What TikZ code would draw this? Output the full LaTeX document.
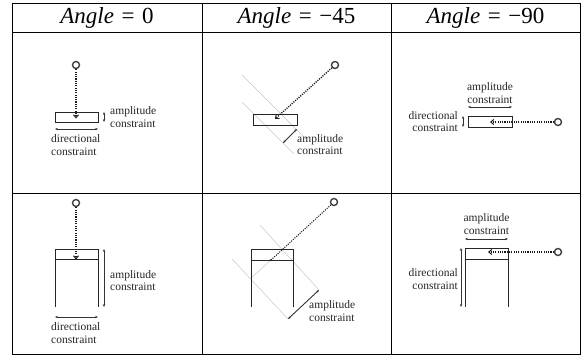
\documentclass[tikz,border=0pt]{standalone}
\usepackage{fontspec}
\setmainfont{Liberation Serif}
\usetikzlibrary{arrows.meta}
\tikzset{
  tbl/.style={line width=0.9pt, draw=black},
  boxline/.style={line width=0.85pt, draw=black!85},
  ptc/.style={circle, draw=black!75, line width=1.4pt, inner sep=0pt, minimum size=7pt},
  dotline/.style={line width=1.4pt, draw=black!90, dash pattern=on 1.1pt off 1.2pt},
  dots/.style={dotline, -{Straight Barb[length=3pt,width=5pt,line width=1pt]}},
  dim/.style={line width=0.55pt, draw=black!80, {Stealth[length=3pt,width=2.4pt]}-{Stealth[length=3pt,width=2.4pt]}},
  guide/.style={line width=0.5pt, draw=black!22},
  lbl/.style={font=\fontsize{11.5}{12.8}\selectfont, inner sep=0pt, text=black!85},
  hdr/.style={font=\fontsize{23}{26}\selectfont, inner sep=0pt}
}
\newcommand{\hdreq}{\hspace{0.33em}=\hspace{0.33em}}
\begin{document}
\begin{tikzpicture}[x=1pt,y=-1pt]
\useasboundingbox (0,0) rectangle (586,362);
% table
\draw[tbl] (12,3) rectangle (580,354);
\draw[tbl] (12,32) -- (580,32);
\draw[tbl] (12,193) -- (580,193);
\draw[tbl] (202,3) -- (202,354);
\draw[tbl] (391,3) -- (391,354);
% headers
\node[hdr] (h1) at (107,17.5) {\textit{Angle}\hdreq 0};
\node[hdr] (h2) at (296.5,17.5) {\textit{Angle}\hdreq −45};
\node[hdr] (h3) at (485.5,17.5) {\textit{Angle}\hdreq −90};

% ---- cell 1: angle 0, short
\draw[boxline] (55,112) rectangle (98,122);
\node[ptc] (c1) at (76,65) {};
\coordinate (t1) at (76,118.5);
\draw[dots] (c1) -- (t1);
\coordinate (a1s) at (104,112); \coordinate (a1e) at (104,122);
\draw[dim] (a1s) -- (a1e);
\node[lbl, anchor=west, align=left] (l1a) at (110,117) {amplitude\\constraint};
\coordinate (d1s) at (55,129); \coordinate (d1e) at (98,129);
\draw[dim] (d1s) -- (d1e);
\node[lbl, anchor=west, align=left] (l1d) at (51,145) {directional\\constraint};

% ---- cell 2: angle -45, short
\coordinate (g2a) at (242,75); \coordinate (g2b) at (306,139);
\coordinate (g2c) at (242,102); \coordinate (g2d) at (294,154);
\draw[guide] (g2a) -- (g2b);
\draw[guide] (g2c) -- (g2d);
\draw[boxline] (253,114) rectangle (297,125);
\node[ptc] (c2) at (335,65) {};
\coordinate (t2) at (275,119);
\draw[dots] (c2) -- (t2);
\coordinate (a2s) at (283,143); \coordinate (a2e) at (297,129);
\draw[dim, line width=0.8pt] (a2s) -- (a2e);
\node[lbl, anchor=west, align=left] (l2a) at (297,144.5) {amplitude\\constraint};

% ---- cell 3: angle -90, short
\draw[boxline] (468,116) rectangle (512,127);
\node[ptc] (c3) at (558,122) {};
\coordinate (t3) at (490,122);
\draw[dots] (c3) -- (t3);
\coordinate (a3s) at (468,107); \coordinate (a3e) at (512,107);
\draw[dim] (a3s) -- (a3e);
\node[lbl, anchor=south, align=center] (l3a) at (490,104) {amplitude\\constraint};
\coordinate (d3s) at (463,116); \coordinate (d3e) at (463,127);
\draw[dim] (d3s) -- (d3e);
\node[lbl, anchor=east, align=right] (l3d) at (458,121.5) {directional\\constraint};

% ---- cell 4: angle 0, long
\draw[boxline] (55,307) -- (55,249) -- (98,249) -- (98,307);
\draw[boxline] (55,259) -- (98,259);
\node[ptc] (c4) at (76,203) {};
\coordinate (t4) at (76,259.5);
\draw[dots] (c4) -- (t4);
\coordinate (a4s) at (104,249); \coordinate (a4e) at (104,307);
\draw[dim] (a4s) -- (a4e);
\node[lbl, anchor=west, align=left] (l4a) at (110,280.5) {amplitude\\constraint};
\coordinate (d4s) at (55,317); \coordinate (d4e) at (98,317);
\draw[dim] (d4s) -- (d4e);
\node[lbl, anchor=west, align=left] (l4d) at (51,333) {directional\\constraint};

% ---- cell 5: angle -45, long
\coordinate (g5a) at (260,225); \coordinate (g5b) at (319,290);
\coordinate (g5c) at (232,259); \coordinate (g5d) at (288,319);
\coordinate (t5) at (271,260); \coordinate (g5e) at (250,279);
\draw[guide] (g5a) -- (g5b);
\draw[guide] (g5c) -- (g5d);
\draw[guide] (t5) -- (g5e);
\draw[boxline] (251,307) -- (251,249) -- (293,249) -- (293,307);
\draw[boxline] (251,260) -- (293,260);
\node[ptc] (c5) at (334,202) {};
\draw[dotline, line width=1pt] (c5) -- (t5);
\fill[black!85] (t5) circle (1.2pt);
\coordinate (a5s) at (288,319); \coordinate (a5e) at (319,290);
\draw[dim, line width=0.9pt] (a5s) -- (a5e);
\node[lbl, anchor=west, align=left] (l5a) at (309,311) {amplitude\\constraint};

% ---- cell 6: angle -90, long
\draw[boxline] (465,307) -- (465,248) -- (508,248) -- (508,307);
\draw[boxline] (465,259) -- (508,259);
\node[ptc] (c6) at (558,252) {};
\coordinate (t6) at (488,252);
\draw[dots] (c6) -- (t6);
\coordinate (a6s) at (465,239); \coordinate (a6e) at (508,239);
\draw[dim] (a6s) -- (a6e);
\node[lbl, anchor=south, align=center] (l6a) at (486.5,235) {amplitude\\constraint};
\coordinate (d6s) at (461,248); \coordinate (d6e) at (461,307);
\draw[dim] (d6s) -- (d6e);
\node[lbl, anchor=east, align=right] (l6d) at (458,279) {directional\\constraint};
\end{tikzpicture}
\end{document}
